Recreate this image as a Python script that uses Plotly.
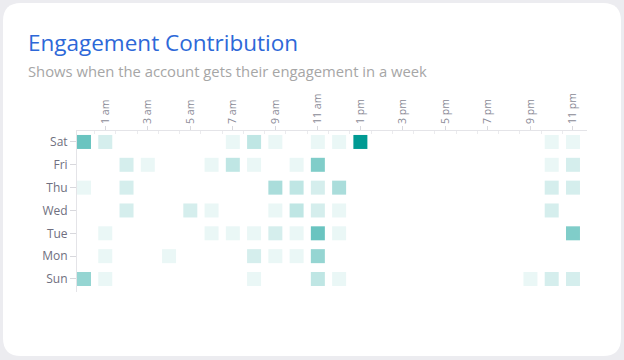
import plotly.graph_objects as go

days = ["Sat", "Fri", "Thu", "Wed", "Tue", "Mon", "Sun"]
hours = list(range(24))
hour_labels = ["12 am", "1 am", "2 am", "3 am", "4 am", "5 am", "6 am", "7 am", "8 am", "9 am", "10 am", "11 am",
               "12 pm", "1 pm", "2 pm", "3 pm", "4 pm", "5 pm", "6 pm", "7 pm", "8 pm", "9 pm", "10 pm", "11 pm"]

sat = [7, 2, 0, 0, 0, 0, 0, 1, 3, 1, 0, 1, 1, 12, 0, 0, 0, 0, 0, 0, 0, 0, 1, 1]
fri = [0, 0, 2, 1, 0, 0, 1, 3, 1, 0, 1, 6, 0, 0, 0, 0, 0, 0, 0, 0, 0, 0, 1, 2]
thu = [1, 0, 2, 0, 0, 0, 0, 0, 0, 4, 3, 2, 4, 0, 0, 0, 0, 0, 0, 0, 0, 0, 2, 2]
wed = [0, 0, 2, 0, 0, 2, 1, 0, 0, 1, 3, 2, 1, 0, 0, 0, 0, 0, 0, 0, 0, 0, 2, 0]
tue = [0, 1, 0, 0, 0, 0, 1, 1, 1, 2, 1, 7, 1, 0, 0, 0, 0, 0, 0, 0, 0, 0, 0, 6]
mon = [0, 1, 0, 0, 1, 0, 0, 0, 2, 1, 1, 5, 0, 0, 0, 0, 0, 0, 0, 0, 0, 0, 0, 0]
sun = [5, 1, 0, 0, 0, 0, 0, 0, 1, 0, 0, 3, 1, 0, 0, 0, 0, 0, 0, 0, 0, 1, 2, 2]
matrix = [sat, fri, thu, wed, tue, mon, sun]

W, H = 624, 360
ML, MR, MT, MB = 77, 37, 131, 68
PW, PH = W - ML - MR, H - MT - MB


def px(x):
    return (x - ML) / PW


def py(y):
    return (H - MB - y) / PH


xs, ys, vs = [], [], []
for r, row in enumerate(matrix):
    for c, v in enumerate(row):
        if v > 0:
            xs.append(hours[c])
            ys.append(r)
            vs.append(v)

fig = go.Figure()
fig.add_trace(go.Scatter(
    x=xs, y=ys, mode="markers",
    marker=dict(symbol="square", size=14, color=vs, cmin=0, cmax=max(vs),
                colorscale=[[0, "#ffffff"], [1, "#009a93"]], line=dict(width=0)),
    hoverinfo="skip", showlegend=False,
))

# card background with rounded corners
cx0, cx1, cy0, cy1, rad = 3, 621, 3, 356, 18
rx, ry = rad / PW, rad / PH
X0, X1, Y0, Y1 = px(cx0), px(cx1), py(cy1), py(cy0)
path = (f"M {X0+rx},{Y1} L {X1-rx},{Y1} Q {X1},{Y1} {X1},{Y1-ry} "
        f"L {X1},{Y0+ry} Q {X1},{Y0} {X1-rx},{Y0} L {X0+rx},{Y0} "
        f"Q {X0},{Y0} {X0},{Y0+ry} L {X0},{Y1-ry} Q {X0},{Y1} {X0+rx},{Y1} Z")
fig.add_shape(type="path", path=path, xref="paper", yref="paper",
              fillcolor="#ffffff", line=dict(width=0), layer="below")

fig.add_annotation(text="Engagement Contribution", xref="paper", yref="paper",
                   x=px(26), y=py(42), xanchor="left", yanchor="middle", showarrow=False,
                   font=dict(family="Open Sans", size=22.5, color="#2d68d8"))
fig.add_annotation(text="Shows when the account gets their engagement in a week", xref="paper", yref="paper",
                   x=px(26), y=py(71), xanchor="left", yanchor="middle", showarrow=False,
                   font=dict(family="Open Sans", size=14.8, color="#a6a6a6"))

tick_idx = [h for h in hours if h % 2 == 1]
fig.update_layout(
    width=W, height=H,
    margin=dict(l=ML, r=MR, t=MT, b=MB),
    paper_bgcolor="#ececf0", plot_bgcolor="rgba(0,0,0,0)",
    font=dict(family="Open Sans"),
    xaxis=dict(side="top", range=[-0.33, 23.66], tickvals=tick_idx,
               ticktext=[hour_labels[h] for h in tick_idx], tickangle=-90,
               showgrid=False, zeroline=False, showline=True, linecolor="#e4e4e8", linewidth=1,
               ticks="outside", ticklen=4, tickcolor="#d8d8dd",
               tickfont=dict(size=10.5, color="#8a8a96"),
               minor=dict(tickvals=[h + 0.5 for h in hours[:-1]], ticks="inside", ticklen=3,
                          tickcolor="#ebebee", showgrid=False)),
    yaxis=dict(range=[6.57, -0.48], tickvals=list(range(len(days))), ticktext=days,
               showgrid=False, zeroline=False, showline=True, linecolor="#e4e4e8", linewidth=1,
               ticks="outside", ticklen=6, tickcolor="#d8d8dd",
               tickfont=dict(size=12, color="#6f6f80")),
)

fig.write_html("out.html", config={"displayModeBar": False},
               post_script="document.body.style.margin='0';document.body.style.overflow='hidden';")
